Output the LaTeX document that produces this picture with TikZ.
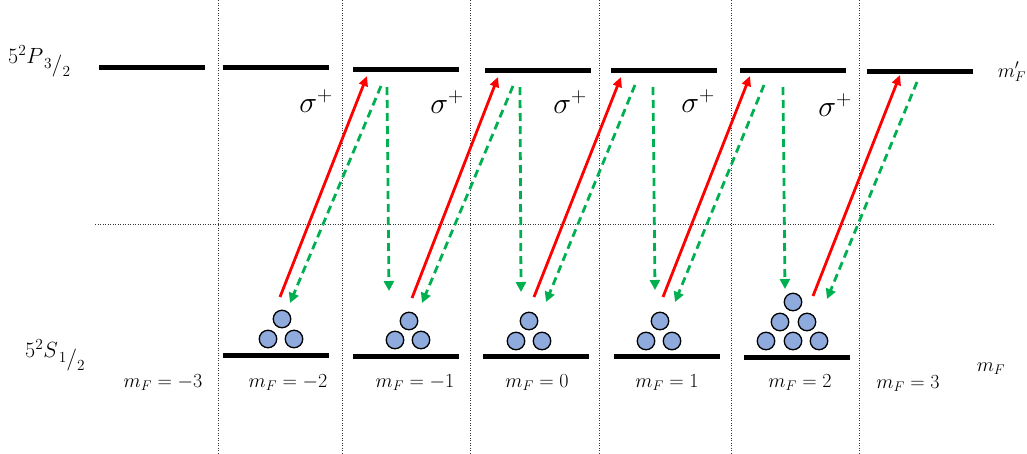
\documentclass[tikz,border=0pt]{standalone}
\usepackage{fix-cm}
\usetikzlibrary{arrows.meta}
\definecolor{grn}{HTML}{00B050}
\definecolor{atomfill}{HTML}{8FAADC}
\newcommand{\slfrac}[2]{\kern1pt\raisebox{-5pt}{$\scriptstyle #1$}\raisebox{-8pt}{$/$}\raisebox{-13pt}{$\scriptstyle #2$}}
\begin{document}
\begin{tikzpicture}[x=1pt,y=-1pt,
 bar/.style={rectangle, fill=black, minimum width=106pt, minimum height=5pt, inner sep=0pt},
 sep/.style={line width=1pt, black!80, dash pattern=on 1pt off 1.5pt},
 pump/.style={red, line width=2.8pt, -{Triangle[length=10pt,width=9pt]}},
 decay/.style={grn, line width=2.8pt, dash pattern=on 8pt off 5pt, -{Triangle[length=10pt,width=10pt]}},
 atom/.style={circle, draw, line width=1.3pt, fill=atomfill, minimum size=17.5pt, inner sep=0pt},
 mflabel/.style={font=\fontsize{20}{24}\selectfont, anchor=base, inner sep=0pt},
 sidelabel/.style={font=\fontsize{20}{24}\selectfont, anchor=base, inner sep=0pt},
 termlabel/.style={font=\fontsize{22}{26}\selectfont, anchor=base west, inner sep=0pt},
 sig/.style={font=\fontsize{30}{36}\selectfont, anchor=base east, inner sep=0pt},
]
\useasboundingbox (0,0) rectangle (1027,453);

% separators
\foreach \x [count=\i] in {218,342,470,599,731,859}{
  \coordinate (st\i) at (\x,0); \coordinate (sb\i) at (\x,453);
  \draw[sep] (st\i) -- (sb\i);
}
\coordinate (hl) at (95,224); \coordinate (hr) at (995,224);
\draw[sep] (hl) -- (hr);

% upper levels
\node[bar] (Um3) at (152,67) {};
\node[bar] (Um2) at (276,67) {};
\node[bar] (Um1) at (405.5,69) {};
\node[bar] (U0) at (537.5,70) {};
\node[bar] (U1) at (663.5,70) {};
\node[bar] (U2) at (792.5,70) {};
\node[bar] (U3) at (920,71) {};

% lower levels
\node[bar] (Lm2) at (276,355) {};
\node[bar] (Lm1) at (406,356) {};
\node[bar] (L0) at (536,356) {};
\node[bar] (L1) at (667,356) {};
\node[bar] (L2) at (796.5,357) {};

% atoms
\node[atom] (am2a) at (282,319) {};
\node[atom] (am2b) at (268,339) {};
\node[atom] (am2c) at (294,339) {};
\node[atom] (am1a) at (409,321) {};
\node[atom] (am1b) at (395,340) {};
\node[atom] (am1c) at (421,340) {};
\node[atom] (a0a) at (529,321) {};
\node[atom] (a0b) at (516,341) {};
\node[atom] (a0c) at (542,341) {};
\node[atom] (a1a) at (660,321) {};
\node[atom] (a1b) at (646,341) {};
\node[atom] (a1c) at (672,341) {};
\node[atom] (a2a) at (793,302) {};
\node[atom] (a2b) at (780,322) {};
\node[atom] (a2c) at (807,322) {};
\node[atom] (a2d) at (766,341) {};
\node[atom] (a2e) at (793,341) {};
\node[atom] (a2f) at (819,341) {};

% arrow end points
\coordinate (r1s) at (280,297); \coordinate (r1e) at (367,76);
\coordinate (g1s) at (381,86);  \coordinate (g1e) at (290,303);
\coordinate (v1s) at (387,87);  \coordinate (v1e) at (389,291);
\coordinate (r2s) at (412,298); \coordinate (r2e) at (498,77);
\coordinate (g2s) at (513,86);  \coordinate (g2e) at (422,303);
\coordinate (v2s) at (520,87);  \coordinate (v2e) at (521,292);
\coordinate (r3s) at (534,297); \coordinate (r3e) at (621,77);
\coordinate (g3s) at (635,85);  \coordinate (g3e) at (546,302);
\coordinate (v3s) at (653,87);  \coordinate (v3e) at (655,290);
\coordinate (r4s) at (663,297); \coordinate (r4e) at (750,76);
\coordinate (g4s) at (764,85);  \coordinate (g4e) at (675,302);
\coordinate (v4s) at (783,87);  \coordinate (v4e) at (785,289);
\coordinate (r5s) at (813,296); \coordinate (r5e) at (900,75);
\coordinate (g5s) at (917,82);  \coordinate (g5e) at (827,299);

\foreach \i in {1,...,5}{
  \draw[pump] (r\i s) -- (r\i e);
  \draw[decay] (g\i s) -- (g\i e);
}
\foreach \i in {1,...,4}{
  \draw[decay] (v\i s) -- (v\i e);
}

% sigma labels
\node[sig] (s1) at (333,112) {$\sigma^+$};
\node[sig] (s2) at (464,113) {$\sigma^+$};
\node[sig] (s3) at (587,113) {$\sigma^+$};
\node[sig] (s4) at (715,112) {$\sigma^+$};
\node[sig] (s5) at (852,116) {$\sigma^+$};

% term labels
\node[termlabel] (P) at (8,63) {$5^2P$\slfrac{3}{2}};
\node[termlabel] (S) at (25,357) {$5^2S$\slfrac{1}{2}};

% m_F labels
\node[mflabel] (mm3) at (163,387) {$m_F=-3$};
\node[mflabel] (mm2) at (288,387) {$m_F=-2$};
\node[mflabel] (mm1) at (415,387) {$m_F=-1$};
\node[mflabel] (m0) at (537,387) {$m_F=0$};
\node[mflabel] (m1) at (667,387) {$m_F=1$};
\node[mflabel] (m2) at (800,387) {$m_F=2$};
\node[mflabel] (m3) at (908,388) {$m_F=3$};

\node[sidelabel] (mFp) at (1012,77) {$m_F'$};
\node[sidelabel] (mF) at (991,371) {$m_F$};
\end{tikzpicture}
\end{document}
